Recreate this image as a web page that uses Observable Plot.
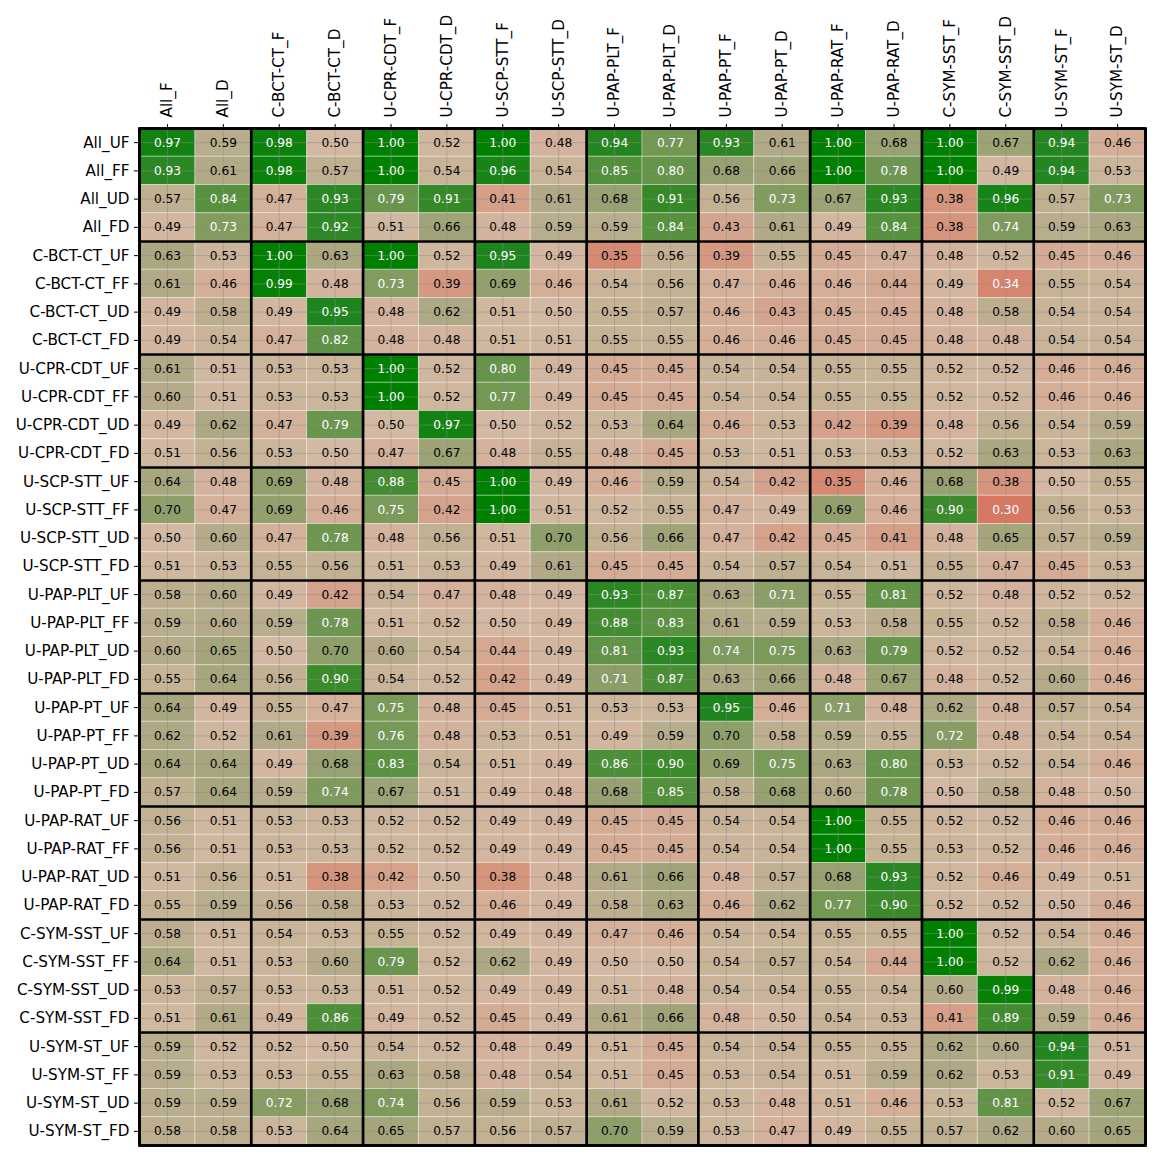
<!DOCTYPE html>
<html>
<head>
<meta charset="utf-8">
<script src="https://cdn.jsdelivr.net/npm/d3@7"></script>
<script src="https://cdn.jsdelivr.net/npm/@observablehq/plot@0.6"></script>
<style>
  html, body { margin: 0; padding: 0; background: white; }
</style>
</head>
<body>
<div id="chart"></div>
<script>
// Column (x) labels
const colLabels = [
  "All_F", "All_D", "C-BCT-CT_F", "C-BCT-CT_D", "U-CPR-CDT_F", "U-CPR-CDT_D",
  "U-SCP-STT_F", "U-SCP-STT_D", "U-PAP-PLT_F", "U-PAP-PLT_D", "U-PAP-PT_F", "U-PAP-PT_D",
  "U-PAP-RAT_F", "U-PAP-RAT_D", "C-SYM-SST_F", "C-SYM-SST_D", "U-SYM-ST_F", "U-SYM-ST_D"
];
// Row groups and suffixes
const rowGroups = ["All", "C-BCT-CT", "U-CPR-CDT", "U-SCP-STT", "U-PAP-PLT", "U-PAP-PT", "U-PAP-RAT", "C-SYM-SST", "U-SYM-ST"];
const rowSuffixes = ["UF", "FF", "UD", "FD"];

// Values, one small array per row group (rows UF, FF, UD, FD)
const allRows = [
  [0.97, 0.59, 0.98, 0.50, 1.00, 0.52, 1.00, 0.48, 0.94, 0.77, 0.93, 0.61, 1.00, 0.68, 1.00, 0.67, 0.94, 0.46],
  [0.93, 0.61, 0.98, 0.57, 1.00, 0.54, 0.96, 0.54, 0.85, 0.80, 0.68, 0.66, 1.00, 0.78, 1.00, 0.49, 0.94, 0.53],
  [0.57, 0.84, 0.47, 0.93, 0.79, 0.91, 0.41, 0.61, 0.68, 0.91, 0.56, 0.73, 0.67, 0.93, 0.38, 0.96, 0.57, 0.73],
  [0.49, 0.73, 0.47, 0.92, 0.51, 0.66, 0.48, 0.59, 0.59, 0.84, 0.43, 0.61, 0.49, 0.84, 0.38, 0.74, 0.59, 0.63]
];
const cbctRows = [
  [0.63, 0.53, 1.00, 0.63, 1.00, 0.52, 0.95, 0.49, 0.35, 0.56, 0.39, 0.55, 0.45, 0.47, 0.48, 0.52, 0.45, 0.46],
  [0.61, 0.46, 0.99, 0.48, 0.73, 0.39, 0.69, 0.46, 0.54, 0.56, 0.47, 0.46, 0.46, 0.44, 0.49, 0.34, 0.55, 0.54],
  [0.49, 0.58, 0.49, 0.95, 0.48, 0.62, 0.51, 0.50, 0.55, 0.57, 0.46, 0.43, 0.45, 0.45, 0.48, 0.58, 0.54, 0.54],
  [0.49, 0.54, 0.47, 0.82, 0.48, 0.48, 0.51, 0.51, 0.55, 0.55, 0.46, 0.46, 0.45, 0.45, 0.48, 0.48, 0.54, 0.54]
];
const cprRows = [
  [0.61, 0.51, 0.53, 0.53, 1.00, 0.52, 0.80, 0.49, 0.45, 0.45, 0.54, 0.54, 0.55, 0.55, 0.52, 0.52, 0.46, 0.46],
  [0.60, 0.51, 0.53, 0.53, 1.00, 0.52, 0.77, 0.49, 0.45, 0.45, 0.54, 0.54, 0.55, 0.55, 0.52, 0.52, 0.46, 0.46],
  [0.49, 0.62, 0.47, 0.79, 0.50, 0.97, 0.50, 0.52, 0.53, 0.64, 0.46, 0.53, 0.42, 0.39, 0.48, 0.56, 0.54, 0.59],
  [0.51, 0.56, 0.53, 0.50, 0.47, 0.67, 0.48, 0.55, 0.48, 0.45, 0.53, 0.51, 0.53, 0.53, 0.52, 0.63, 0.53, 0.63]
];
const scpRows = [
  [0.64, 0.48, 0.69, 0.48, 0.88, 0.45, 1.00, 0.49, 0.46, 0.59, 0.54, 0.42, 0.35, 0.46, 0.68, 0.38, 0.50, 0.55],
  [0.70, 0.47, 0.69, 0.46, 0.75, 0.42, 1.00, 0.51, 0.52, 0.55, 0.47, 0.49, 0.69, 0.46, 0.90, 0.30, 0.56, 0.53],
  [0.50, 0.60, 0.47, 0.78, 0.48, 0.56, 0.51, 0.70, 0.56, 0.66, 0.47, 0.42, 0.45, 0.41, 0.48, 0.65, 0.57, 0.59],
  [0.51, 0.53, 0.55, 0.56, 0.51, 0.53, 0.49, 0.61, 0.45, 0.45, 0.54, 0.57, 0.54, 0.51, 0.55, 0.47, 0.45, 0.53]
];
const pltRows = [
  [0.58, 0.60, 0.49, 0.42, 0.54, 0.47, 0.48, 0.49, 0.93, 0.87, 0.63, 0.71, 0.55, 0.81, 0.52, 0.48, 0.52, 0.52],
  [0.59, 0.60, 0.59, 0.78, 0.51, 0.52, 0.50, 0.49, 0.88, 0.83, 0.61, 0.59, 0.53, 0.58, 0.55, 0.52, 0.58, 0.46],
  [0.60, 0.65, 0.50, 0.70, 0.60, 0.54, 0.44, 0.49, 0.81, 0.93, 0.74, 0.75, 0.63, 0.79, 0.52, 0.52, 0.54, 0.46],
  [0.55, 0.64, 0.56, 0.90, 0.54, 0.52, 0.42, 0.49, 0.71, 0.87, 0.63, 0.66, 0.48, 0.67, 0.48, 0.52, 0.60, 0.46]
];
const ptRows = [
  [0.64, 0.49, 0.55, 0.47, 0.75, 0.48, 0.45, 0.51, 0.53, 0.53, 0.95, 0.46, 0.71, 0.48, 0.62, 0.48, 0.57, 0.54],
  [0.62, 0.52, 0.61, 0.39, 0.76, 0.48, 0.53, 0.51, 0.49, 0.59, 0.70, 0.58, 0.59, 0.55, 0.72, 0.48, 0.54, 0.54],
  [0.64, 0.64, 0.49, 0.68, 0.83, 0.54, 0.51, 0.49, 0.86, 0.90, 0.69, 0.75, 0.63, 0.80, 0.53, 0.52, 0.54, 0.46],
  [0.57, 0.64, 0.59, 0.74, 0.67, 0.51, 0.49, 0.48, 0.68, 0.85, 0.58, 0.68, 0.60, 0.78, 0.50, 0.58, 0.48, 0.50]
];
const ratRows = [
  [0.56, 0.51, 0.53, 0.53, 0.52, 0.52, 0.49, 0.49, 0.45, 0.45, 0.54, 0.54, 1.00, 0.55, 0.52, 0.52, 0.46, 0.46],
  [0.56, 0.51, 0.53, 0.53, 0.52, 0.52, 0.49, 0.49, 0.45, 0.45, 0.54, 0.54, 1.00, 0.55, 0.53, 0.52, 0.46, 0.46],
  [0.51, 0.56, 0.51, 0.38, 0.42, 0.50, 0.38, 0.48, 0.61, 0.66, 0.48, 0.57, 0.68, 0.93, 0.52, 0.46, 0.49, 0.51],
  [0.55, 0.59, 0.56, 0.58, 0.53, 0.52, 0.46, 0.49, 0.58, 0.63, 0.46, 0.62, 0.77, 0.90, 0.52, 0.52, 0.50, 0.46]
];
const sstRows = [
  [0.58, 0.51, 0.54, 0.53, 0.55, 0.52, 0.49, 0.49, 0.47, 0.46, 0.54, 0.54, 0.55, 0.55, 1.00, 0.52, 0.54, 0.46],
  [0.64, 0.51, 0.53, 0.60, 0.79, 0.52, 0.62, 0.49, 0.50, 0.50, 0.54, 0.57, 0.54, 0.44, 1.00, 0.52, 0.62, 0.46],
  [0.53, 0.57, 0.53, 0.53, 0.51, 0.52, 0.49, 0.49, 0.51, 0.48, 0.54, 0.54, 0.55, 0.54, 0.60, 0.99, 0.48, 0.46],
  [0.51, 0.61, 0.49, 0.86, 0.49, 0.52, 0.45, 0.49, 0.61, 0.66, 0.48, 0.50, 0.54, 0.53, 0.41, 0.89, 0.59, 0.46]
];
const stRows = [
  [0.59, 0.52, 0.52, 0.50, 0.54, 0.52, 0.48, 0.49, 0.51, 0.45, 0.54, 0.54, 0.55, 0.55, 0.62, 0.60, 0.94, 0.51],
  [0.59, 0.53, 0.53, 0.55, 0.63, 0.58, 0.48, 0.54, 0.51, 0.45, 0.53, 0.54, 0.51, 0.59, 0.62, 0.53, 0.91, 0.49],
  [0.59, 0.59, 0.72, 0.68, 0.74, 0.56, 0.59, 0.53, 0.61, 0.52, 0.53, 0.48, 0.51, 0.46, 0.53, 0.81, 0.52, 0.67],
  [0.58, 0.58, 0.53, 0.64, 0.65, 0.57, 0.56, 0.57, 0.70, 0.59, 0.53, 0.47, 0.49, 0.55, 0.57, 0.62, 0.60, 0.65]
];

// Colour map stops (style)
const colorStops = [0.30, 0.35, 0.40, 0.45, 0.50, 0.55, 0.60, 0.65, 0.70, 0.75, 0.80, 0.85, 0.90, 0.95, 1.00];
const colorValues = ["#d87762", "#d68a72", "#d59c85", "#d4ab94", "#d3b9a3", "#c6b396", "#b5ab8a", "#a4a57b",
                     "#8f9f6a", "#7a9a5a", "#66944a", "#52903b", "#3b8a2b", "#1e851e", "#008000"];

// Build table
const groupArrays = [allRows, cbctRows, cprRows, scpRows, pltRows, ptRows, ratRows, sstRows, stRows];
const rowLabels = [];
const cells = [];
groupArrays.forEach((rows, g) => {
  rows.forEach((vals, k) => {
    const r = rowLabels.length;
    rowLabels.push(`${rowGroups[g]}_${rowSuffixes[k]}`);
    vals.forEach((v, c) => cells.push({r, c, v}));
  });
});
const nCols = colLabels.length;
const nRows = rowLabels.length;
const colTicks = d3.range(nCols).map(i => i + 0.5);
const rowTicks = d3.range(nRows).map(i => i + 0.5);
const colBounds = d3.range(0, nCols + 1, 2);
const rowBounds = d3.range(0, nRows + 1, 4);
const isWhite = d => d.v >= 0.705 || d.v <= 0.345;

const chart = Plot.plot({
  width: 1162,
  height: 1162,
  marginLeft: 139,
  marginRight: 17,
  marginTop: 128,
  marginBottom: 17,
  style: {fontFamily: "DejaVu Sans", fontSize: "15.2px", background: "white", color: "black"},
  x: {domain: [0, nCols], axis: null},
  y: {domain: [0, nRows], reverse: true, axis: null},
  color: {type: "linear", domain: colorStops, range: colorValues, interpolate: "rgb"},
  marks: [
    Plot.rect(cells, {x1: d => d.c, x2: d => d.c + 1, y1: d => d.r, y2: d => d.r + 1, fill: "v",
      stroke: "white", strokeOpacity: 0.35, strokeWidth: 1}),
    Plot.ruleX(colTicks, {stroke: "#8c8c8c", strokeOpacity: 0.55, strokeWidth: 0.9}),
    Plot.ruleY(rowTicks, {stroke: "#8c8c8c", strokeOpacity: 0.55, strokeWidth: 0.9}),
    Plot.text(cells, {filter: d => !isWhite(d), x: d => d.c + 0.5, y: d => d.r + 0.5,
      text: d => d.v.toFixed(2), fill: "black", fontSize: 12.2}),
    Plot.text(cells, {filter: isWhite, x: d => d.c + 0.5, y: d => d.r + 0.5,
      text: d => d.v.toFixed(2), fill: "white", fontSize: 12.2}),
    Plot.ruleX(colBounds, {stroke: "black", strokeWidth: 2.7}),
    Plot.ruleY(rowBounds, {stroke: "black", strokeWidth: 2.7}),
    Plot.frame({stroke: "black", strokeWidth: 2.7}),
    Plot.axisX(colTicks, {anchor: "top", tickFormat: d => colLabels[Math.floor(d)], tickRotate: -90,
      tickSize: 5, tickPadding: 6, fontSize: 15.2, label: null}),
    Plot.axisY(rowTicks, {anchor: "left", tickFormat: d => rowLabels[Math.floor(d)],
      tickSize: 5, tickPadding: 5, fontSize: 15.2, label: null})
  ]
});
document.getElementById("chart").appendChild(chart);
</script>
</body>
</html>
